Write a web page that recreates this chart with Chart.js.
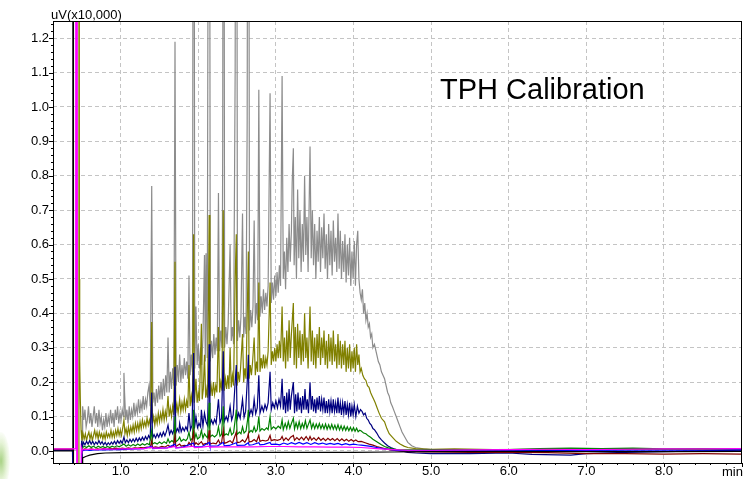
<!DOCTYPE html>
<html>
<head>
<meta charset="utf-8">
<script src="https://cdn.jsdelivr.net/npm/chart.js@4/dist/chart.umd.min.js"></script>
<style>
html,body{margin:0;padding:0;background:#fff;}
#wrap{position:relative;width:753px;height:479px;overflow:hidden;}
canvas{position:absolute;left:0;top:0;}
.lbl{position:absolute;font-family:"Liberation Sans",Arial,sans-serif;color:#000;line-height:1;white-space:nowrap;}
#blob{position:absolute;left:-8px;top:432px;width:18px;height:58px;border-radius:50%;
 background:radial-gradient(ellipse at center, rgba(110,180,50,0.6) 0%, rgba(170,215,120,0.3) 45%, rgba(255,255,255,0) 75%);}
</style>
</head>
<body>
<div id="wrap">
<canvas id="c" width="753" height="479"></canvas>
<div id="blob"></div>
<div class="lbl" id="title" style="left:440px;top:75px;font-size:29px;">TPH Calibration</div>
<div class="lbl" id="unit" style="left:51px;top:8px;font-size:13px;">uV(x10,000)</div>
<div class="lbl" id="xunit" style="left:722px;top:465px;font-size:13px;">min</div>
</div>
<script>
// ---- tick values ----
const xTickValues = [1, 2, 3, 4, 5, 6, 7, 8];
const yTickValues = [0.0, 0.1, 0.2, 0.3, 0.4, 0.5, 0.6, 0.7, 0.8, 0.9, 1.0, 1.1, 1.2];
const xRange = [0.128, 9.006];
const yRange = [-0.035, 1.25];

// ---- series (time in min, signal in uV x10,000) ----
const grayPts = [[0.12,0.004],[0.38,0.004],[0.385,-0.2],[0.50,-0.2],[0.505,0.02],[0.51,0.13],[0.525,0.09],[0.54,0.12],[0.555,0.07],[0.57,0.09],[0.585,0.13],[0.60,0.08],[0.615,0.11],[0.63,0.07],[0.645,0.10],[0.66,0.13],[0.675,0.08],[0.69,0.11],[0.705,0.07],[0.72,0.12],[0.735,0.08],[0.75,0.10],[0.765,0.06],[0.78,0.09],[0.795,0.07],[0.81,0.11],[0.825,0.07],[0.84,0.10],[0.855,0.08],[0.87,0.12],[0.885,0.08],[0.90,0.11],[0.915,0.07],[0.93,0.12],[0.945,0.09],[0.96,0.13],[0.975,0.08],[0.99,0.11],[1.005,0.09],[1.02,0.12],[1.035,0.10],[1.042,0.227],[1.05,0.17],[1.065,0.09],[1.08,0.12],[1.095,0.08],[1.11,0.13],[1.125,0.09],[1.14,0.12],[1.155,0.10],[1.17,0.14],[1.185,0.10],[1.20,0.13],[1.215,0.11],[1.23,0.15],[1.245,0.11],[1.26,0.14],[1.275,0.12],[1.29,0.16],[1.305,0.12],[1.32,0.15],[1.335,0.13],[1.35,0.17],[1.365,0.19],[1.38,0.13],[1.40,0.77],[1.415,0.14],[1.43,0.17],[1.445,0.13],[1.46,0.18],[1.475,0.14],[1.49,0.19],[1.505,0.15],[1.52,0.20],[1.535,0.15],[1.55,0.21],[1.565,0.16],[1.58,0.22],[1.595,0.17],[1.61,0.33],[1.625,0.17],[1.64,0.23],[1.655,0.18],[1.67,0.24],[1.685,0.19],[1.70,1.19],[1.715,0.19],[1.73,0.25],[1.745,0.20],[1.76,0.28],[1.775,0.20],[1.79,0.25],[1.805,0.21],[1.82,0.27],[1.835,0.22],[1.85,0.26],[1.865,0.21],[1.88,0.51],[1.895,0.22],[1.91,0.28],[1.925,0.23],[1.94,3.0],[1.955,0.24],[1.97,0.42],[1.985,0.25],[2.00,0.31],[2.015,0.24],[2.03,0.30],[2.045,0.25],[2.06,0.33],[2.08,0.57],[2.09,0.26],[2.10,0.575],[2.115,0.27],[2.14,3.0],[2.155,0.26],[2.17,0.32],[2.185,0.27],[2.20,0.34],[2.215,0.28],[2.23,0.33],[2.245,0.29],[2.26,0.75],[2.275,0.29],[2.29,0.35],[2.305,0.30],[2.315,0.89],[2.325,3.0],[2.34,0.30],[2.355,0.36],[2.37,0.31],[2.385,0.37],[2.41,0.60],[2.425,0.32],[2.44,0.36],[2.455,0.31],[2.475,1.10],[2.49,3.0],[2.505,0.32],[2.52,0.38],[2.535,0.33],[2.55,0.39],[2.57,0.69],[2.585,0.33],[2.60,0.39],[2.615,0.34],[2.63,0.96],[2.645,3.0],[2.66,0.35],[2.675,0.41],[2.69,0.36],[2.705,0.42],[2.72,0.67],[2.735,0.37],[2.75,0.43],[2.765,0.38],[2.78,1.05],[2.795,0.39],[2.81,0.45],[2.825,0.40],[2.84,0.47],[2.855,0.41],[2.87,0.46],[2.885,0.42],[2.90,0.48],[2.925,1.04],[2.94,0.43],[2.955,0.49],[2.97,0.44],[2.985,0.51],[3.00,0.45],[3.015,0.52],[3.03,0.46],[3.045,0.54],[3.06,0.48],[3.08,1.09],[3.095,0.50],[3.11,0.58],[3.125,0.47],[3.14,0.62],[3.155,0.52],[3.17,0.66],[3.185,0.55],[3.20,0.64],[3.21,0.78],[3.225,0.88],[3.235,0.54],[3.25,0.68],[3.265,0.50],[3.28,0.76],[3.295,0.56],[3.31,0.70],[3.325,0.52],[3.34,0.66],[3.355,0.55],[3.37,0.80],[3.385,0.57],[3.40,0.68],[3.415,0.52],[3.44,0.885],[3.455,0.56],[3.47,0.70],[3.485,0.54],[3.50,0.66],[3.515,0.50],[3.53,0.64],[3.545,0.55],[3.56,0.68],[3.575,0.52],[3.59,0.65],[3.605,0.56],[3.62,0.69],[3.635,0.53],[3.65,0.63],[3.665,0.50],[3.68,0.66],[3.695,0.54],[3.71,0.64],[3.725,0.51],[3.74,0.67],[3.755,0.55],[3.77,0.62],[3.785,0.52],[3.80,0.69],[3.815,0.53],[3.83,0.64],[3.845,0.50],[3.86,0.61],[3.875,0.52],[3.89,0.63],[3.905,0.49],[3.92,0.60],[3.935,0.51],[3.95,0.62],[3.965,0.48],[3.98,0.58],[3.995,0.50],[4.01,0.61],[4.025,0.48],[4.04,0.60],[4.055,0.64],[4.07,0.50],[4.085,0.46],[4.10,0.44],[4.115,0.47],[4.13,0.40],[4.145,0.43],[4.16,0.38],[4.175,0.40],[4.19,0.36],[4.205,0.37],[4.22,0.33],[4.235,0.34],[4.25,0.30],[4.27,0.31],[4.30,0.28],[4.32,0.26],[4.34,0.25],[4.36,0.23],[4.38,0.22],[4.40,0.21],[4.42,0.19],[4.44,0.17],[4.46,0.16],[4.48,0.14],[4.50,0.13],[4.525,0.115],[4.55,0.10],[4.575,0.085],[4.60,0.07],[4.625,0.055],[4.65,0.045],[4.675,0.035],[4.70,0.025],[4.75,0.015],[4.80,0.01],[4.90,0.006],[5.0,0.004],[5.5,0.003],[6.0,0.004],[6.5,0.003],[7.0,0.004],[7.5,0.004],[8.0,0.005],[8.5,0.004],[9.0,0.005]];

const olivePts = [[0.12,0.006],[0.38,0.006],[0.385,-0.2],[0.455,-0.2],[0.462,5.0],[0.468,0.5],[0.472,0.26],[0.48,0.15],[0.49,0.06],[0.50,0.03],[0.515,0.05],[0.53,0.035],[0.545,0.05],[0.56,0.03],[0.575,0.045],[0.59,0.055],[0.605,0.035],[0.62,0.05],[0.635,0.03],[0.65,0.045],[0.665,0.06],[0.68,0.04],[0.695,0.055],[0.71,0.035],[0.725,0.055],[0.74,0.04],[0.755,0.05],[0.77,0.035],[0.785,0.05],[0.80,0.035],[0.815,0.055],[0.83,0.04],[0.845,0.05],[0.86,0.04],[0.875,0.06],[0.89,0.04],[0.905,0.055],[0.92,0.04],[0.935,0.06],[0.95,0.045],[0.965,0.065],[0.98,0.045],[0.995,0.06],[1.01,0.045],[1.025,0.065],[1.042,0.09],[1.055,0.05],[1.07,0.065],[1.085,0.045],[1.10,0.07],[1.115,0.05],[1.13,0.07],[1.145,0.055],[1.16,0.075],[1.175,0.055],[1.19,0.08],[1.205,0.06],[1.22,0.08],[1.235,0.06],[1.25,0.085],[1.265,0.065],[1.28,0.09],[1.295,0.07],[1.31,0.085],[1.325,0.07],[1.34,0.095],[1.355,0.075],[1.37,0.09],[1.385,0.07],[1.40,0.375],[1.41,0.08],[1.425,0.10],[1.44,0.075],[1.455,0.10],[1.47,0.08],[1.485,0.11],[1.50,0.085],[1.515,0.11],[1.53,0.09],[1.545,0.12],[1.56,0.09],[1.575,0.115],[1.59,0.095],[1.61,0.16],[1.625,0.10],[1.64,0.125],[1.655,0.10],[1.67,0.13],[1.685,0.105],[1.70,0.55],[1.71,0.11],[1.725,0.135],[1.74,0.11],[1.76,0.15],[1.775,0.115],[1.79,0.14],[1.805,0.12],[1.82,0.15],[1.835,0.12],[1.85,0.145],[1.865,0.125],[1.88,0.25],[1.895,0.13],[1.91,0.16],[1.925,0.13],[1.94,0.63],[1.95,0.14],[1.97,0.21],[1.985,0.14],[2.00,0.17],[2.015,0.145],[2.04,0.37],[2.05,0.15],[2.065,0.18],[2.08,0.28],[2.095,0.155],[2.11,0.18],[2.12,0.155],[2.14,0.686],[2.15,0.16],[2.165,0.19],[2.18,0.16],[2.195,0.20],[2.21,0.165],[2.225,0.19],[2.24,0.17],[2.26,0.36],[2.275,0.17],[2.29,0.20],[2.305,0.175],[2.322,0.70],[2.335,0.175],[2.35,0.21],[2.365,0.18],[2.38,0.22],[2.395,0.18],[2.41,0.30],[2.425,0.185],[2.44,0.22],[2.455,0.19],[2.475,0.50],[2.49,0.63],[2.50,0.19],[2.515,0.23],[2.53,0.20],[2.545,0.24],[2.57,0.34],[2.585,0.20],[2.60,0.24],[2.615,0.21],[2.635,0.45],[2.645,0.58],[2.655,0.21],[2.67,0.25],[2.685,0.22],[2.70,0.26],[2.72,0.33],[2.735,0.22],[2.75,0.26],[2.765,0.23],[2.78,0.49],[2.795,0.23],[2.81,0.27],[2.825,0.24],[2.84,0.28],[2.855,0.24],[2.87,0.27],[2.885,0.25],[2.90,0.29],[2.925,0.49],[2.94,0.25],[2.955,0.29],[2.97,0.26],[2.985,0.30],[3.00,0.26],[3.015,0.31],[3.03,0.27],[3.045,0.32],[3.06,0.27],[3.08,0.42],[3.095,0.26],[3.11,0.33],[3.125,0.24],[3.14,0.35],[3.155,0.26],[3.17,0.38],[3.185,0.27],[3.20,0.34],[3.225,0.43],[3.235,0.25],[3.25,0.36],[3.265,0.24],[3.28,0.37],[3.295,0.27],[3.31,0.35],[3.325,0.25],[3.34,0.34],[3.355,0.26],[3.37,0.40],[3.385,0.27],[3.40,0.33],[3.415,0.24],[3.44,0.42],[3.455,0.26],[3.47,0.35],[3.485,0.25],[3.50,0.33],[3.515,0.24],[3.53,0.34],[3.545,0.27],[3.56,0.36],[3.575,0.25],[3.59,0.33],[3.605,0.27],[3.62,0.35],[3.635,0.25],[3.65,0.32],[3.665,0.24],[3.68,0.34],[3.695,0.26],[3.71,0.33],[3.725,0.25],[3.74,0.35],[3.755,0.26],[3.77,0.31],[3.785,0.24],[3.80,0.34],[3.815,0.25],[3.83,0.32],[3.845,0.24],[3.86,0.31],[3.875,0.25],[3.89,0.32],[3.905,0.23],[3.92,0.30],[3.935,0.24],[3.95,0.31],[3.965,0.23],[3.98,0.29],[3.995,0.24],[4.01,0.30],[4.025,0.23],[4.04,0.31],[4.055,0.25],[4.07,0.28],[4.085,0.23],[4.10,0.24],[4.12,0.22],[4.14,0.21],[4.16,0.205],[4.18,0.19],[4.20,0.185],[4.22,0.17],[4.24,0.16],[4.26,0.15],[4.28,0.14],[4.30,0.128],[4.33,0.11],[4.36,0.095],[4.40,0.085],[4.43,0.065],[4.46,0.05],[4.50,0.04],[4.55,0.028],[4.60,0.02],[4.65,0.014],[4.70,0.01],[4.80,0.007],[5.0,0.005],[5.3,0.006],[5.8,0.004],[6.5,0.005],[7.2,0.004],[8.0,0.005],[9.0,0.004]];

const navyPts = [[0.12,0.003],[0.38,0.003],[0.385,-0.2],[0.49,-0.2],[0.497,0.03],[0.505,0.01],[0.52,0.025],[0.54,0.018],[0.56,0.028],[0.58,0.02],[0.60,0.03],[0.62,0.02],[0.64,0.028],[0.66,0.018],[0.68,0.026],[0.70,0.02],[0.72,0.03],[0.74,0.02],[0.76,0.027],[0.78,0.018],[0.80,0.025],[0.82,0.017],[0.84,0.024],[0.86,0.018],[0.88,0.026],[0.90,0.02],[0.92,0.028],[0.94,0.02],[0.96,0.03],[0.98,0.022],[1.00,0.03],[1.02,0.022],[1.042,0.04],[1.06,0.024],[1.08,0.032],[1.10,0.024],[1.12,0.034],[1.14,0.026],[1.16,0.035],[1.18,0.027],[1.20,0.037],[1.22,0.028],[1.24,0.038],[1.26,0.03],[1.28,0.04],[1.30,0.031],[1.32,0.042],[1.34,0.033],[1.36,0.045],[1.38,0.035],[1.40,0.17],[1.41,0.037],[1.43,0.048],[1.45,0.038],[1.47,0.05],[1.49,0.04],[1.51,0.052],[1.53,0.042],[1.55,0.055],[1.57,0.044],[1.59,0.057],[1.61,0.075],[1.63,0.048],[1.65,0.06],[1.67,0.05],[1.685,0.062],[1.70,0.245],[1.71,0.052],[1.73,0.065],[1.75,0.055],[1.76,0.08],[1.78,0.056],[1.80,0.068],[1.82,0.058],[1.84,0.07],[1.86,0.06],[1.88,0.11],[1.90,0.062],[1.92,0.075],[1.94,0.285],[1.95,0.065],[1.97,0.10],[1.99,0.068],[2.01,0.08],[2.03,0.07],[2.04,0.12],[2.06,0.072],[2.08,0.11],[2.10,0.085],[2.12,0.074],[2.14,0.31],[2.15,0.076],[2.17,0.09],[2.19,0.078],[2.21,0.092],[2.23,0.08],[2.26,0.15],[2.28,0.082],[2.30,0.095],[2.322,0.29],[2.335,0.085],[2.36,0.10],[2.38,0.087],[2.41,0.13],[2.43,0.09],[2.45,0.105],[2.475,0.20],[2.49,0.25],[2.50,0.092],[2.52,0.11],[2.54,0.095],[2.57,0.15],[2.59,0.098],[2.61,0.115],[2.635,0.22],[2.645,0.28],[2.655,0.10],[2.68,0.12],[2.70,0.105],[2.72,0.15],[2.74,0.108],[2.76,0.125],[2.78,0.22],[2.795,0.11],[2.82,0.13],[2.84,0.115],[2.86,0.135],[2.88,0.12],[2.90,0.14],[2.925,0.23],[2.94,0.12],[2.96,0.14],[2.98,0.125],[3.00,0.145],[3.02,0.125],[3.04,0.15],[3.06,0.13],[3.08,0.21],[3.095,0.12],[3.11,0.16],[3.125,0.11],[3.14,0.17],[3.155,0.115],[3.17,0.18],[3.185,0.12],[3.20,0.16],[3.225,0.20],[3.24,0.11],[3.255,0.165],[3.27,0.115],[3.285,0.17],[3.30,0.12],[3.315,0.155],[3.33,0.11],[3.345,0.16],[3.36,0.12],[3.375,0.18],[3.39,0.12],[3.405,0.15],[3.42,0.11],[3.44,0.20],[3.455,0.12],[3.47,0.16],[3.485,0.115],[3.50,0.15],[3.515,0.11],[3.53,0.155],[3.545,0.12],[3.56,0.16],[3.575,0.115],[3.59,0.15],[3.605,0.12],[3.62,0.155],[3.635,0.11],[3.65,0.145],[3.665,0.11],[3.68,0.15],[3.695,0.115],[3.71,0.145],[3.725,0.11],[3.74,0.15],[3.755,0.115],[3.77,0.14],[3.785,0.11],[3.80,0.155],[3.815,0.11],[3.83,0.14],[3.845,0.105],[3.86,0.14],[3.875,0.11],[3.89,0.145],[3.905,0.105],[3.92,0.135],[3.935,0.105],[3.95,0.14],[3.965,0.10],[3.98,0.13],[3.995,0.105],[4.01,0.135],[4.03,0.10],[4.05,0.13],[4.07,0.11],[4.09,0.12],[4.11,0.115],[4.13,0.105],[4.15,0.11],[4.17,0.095],[4.19,0.09],[4.21,0.08],[4.23,0.075],[4.25,0.065],[4.27,0.062],[4.30,0.052],[4.33,0.04],[4.36,0.032],[4.40,0.023],[4.44,0.015],[4.48,0.01],[4.52,0.006],[4.56,0.003],[4.62,0.0],[4.70,-0.004],[4.8,-0.006],[5.0,-0.008],[5.5,-0.008],[6.0,-0.006],[6.3,-0.01],[6.8,-0.012],[7.0,-0.008],[7.5,-0.004],[8.0,-0.002],[8.5,0.0],[9.0,0.002]];

const greenPts = [[0.12,0.003],[0.38,0.003],[0.385,-0.2],[0.495,-0.2],[0.505,0.008],[0.53,0.014],[0.56,0.01],[0.59,0.015],[0.62,0.01],[0.65,0.014],[0.68,0.009],[0.71,0.014],[0.74,0.01],[0.77,0.013],[0.80,0.009],[0.83,0.013],[0.86,0.01],[0.89,0.014],[0.92,0.011],[0.95,0.015],[0.98,0.012],[1.01,0.016],[1.042,0.02],[1.07,0.014],[1.10,0.018],[1.13,0.014],[1.16,0.019],[1.19,0.015],[1.22,0.02],[1.25,0.016],[1.28,0.021],[1.31,0.017],[1.34,0.022],[1.37,0.018],[1.40,0.06],[1.41,0.02],[1.44,0.024],[1.47,0.02],[1.50,0.026],[1.53,0.021],[1.56,0.027],[1.59,0.022],[1.61,0.035],[1.63,0.024],[1.66,0.03],[1.685,0.025],[1.70,0.10],[1.71,0.026],[1.74,0.032],[1.76,0.04],[1.78,0.028],[1.81,0.034],[1.84,0.03],[1.86,0.036],[1.88,0.055],[1.90,0.031],[1.925,0.037],[1.94,0.12],[1.95,0.033],[1.97,0.05],[1.99,0.035],[2.02,0.04],[2.04,0.06],[2.06,0.037],[2.08,0.05],[2.10,0.043],[2.12,0.038],[2.14,0.14],[2.15,0.04],[2.18,0.046],[2.21,0.041],[2.24,0.047],[2.26,0.07],[2.28,0.043],[2.30,0.048],[2.322,0.13],[2.335,0.045],[2.36,0.05],[2.385,0.046],[2.41,0.065],[2.43,0.047],[2.455,0.053],[2.475,0.09],[2.49,0.12],[2.50,0.048],[2.53,0.055],[2.55,0.05],[2.57,0.07],[2.59,0.052],[2.615,0.058],[2.635,0.09],[2.645,0.12],[2.655,0.053],[2.68,0.06],[2.70,0.055],[2.72,0.07],[2.74,0.056],[2.76,0.062],[2.78,0.10],[2.795,0.058],[2.82,0.065],[2.85,0.06],[2.88,0.067],[2.90,0.062],[2.925,0.10],[2.94,0.063],[2.97,0.07],[3.00,0.064],[3.03,0.072],[3.06,0.066],[3.08,0.09],[3.095,0.062],[3.12,0.08],[3.14,0.065],[3.16,0.085],[3.18,0.066],[3.20,0.08],[3.225,0.095],[3.24,0.064],[3.26,0.082],[3.28,0.066],[3.30,0.085],[3.32,0.065],[3.34,0.08],[3.36,0.067],[3.38,0.088],[3.40,0.066],[3.42,0.078],[3.44,0.09],[3.46,0.066],[3.48,0.08],[3.50,0.065],[3.52,0.078],[3.54,0.066],[3.56,0.08],[3.58,0.065],[3.60,0.077],[3.62,0.064],[3.64,0.078],[3.66,0.063],[3.68,0.076],[3.70,0.064],[3.72,0.077],[3.74,0.063],[3.76,0.075],[3.78,0.062],[3.80,0.076],[3.82,0.061],[3.84,0.073],[3.86,0.06],[3.88,0.072],[3.90,0.06],[3.92,0.07],[3.94,0.059],[3.96,0.069],[3.98,0.058],[4.00,0.068],[4.02,0.057],[4.04,0.066],[4.06,0.056],[4.08,0.06],[4.10,0.058],[4.13,0.052],[4.16,0.05],[4.19,0.044],[4.22,0.04],[4.25,0.034],[4.28,0.03],[4.32,0.024],[4.36,0.018],[4.40,0.013],[4.45,0.009],[4.50,0.006],[4.56,0.004],[4.65,0.003],[5.0,0.003],[5.5,0.004],[6.0,0.004],[6.4,0.007],[6.8,0.008],[7.2,0.007],[7.6,0.008],[8.0,0.006],[8.5,0.007],[9.0,0.006]];

const redPts = [[0.12,0.004],[0.38,0.004],[0.385,-0.2],[0.495,-0.2],[0.50,0.003],[0.54,0.006],[0.58,0.004],[0.62,0.006],[0.66,0.004],[0.70,0.006],[0.74,0.005],[0.78,0.007],[0.82,0.005],[0.86,0.007],[0.90,0.006],[0.94,0.008],[0.98,0.006],[1.02,0.008],[1.06,0.007],[1.10,0.009],[1.14,0.007],[1.18,0.009],[1.22,0.008],[1.26,0.01],[1.30,0.009],[1.34,0.011],[1.38,0.009],[1.40,0.03],[1.41,0.01],[1.45,0.012],[1.49,0.01],[1.53,0.013],[1.57,0.011],[1.61,0.017],[1.64,0.012],[1.68,0.014],[1.70,0.045],[1.71,0.013],[1.76,0.02],[1.78,0.014],[1.82,0.016],[1.86,0.015],[1.88,0.025],[1.91,0.016],[1.94,0.055],[1.95,0.017],[1.97,0.024],[2.00,0.018],[2.04,0.027],[2.06,0.019],[2.10,0.022],[2.12,0.02],[2.14,0.06],[2.15,0.02],[2.19,0.023],[2.23,0.021],[2.26,0.032],[2.28,0.022],[2.30,0.024],[2.322,0.06],[2.335,0.022],[2.37,0.025],[2.41,0.03],[2.44,0.023],[2.475,0.045],[2.49,0.055],[2.50,0.024],[2.54,0.026],[2.57,0.032],[2.60,0.025],[2.635,0.04],[2.645,0.05],[2.655,0.026],[2.69,0.028],[2.72,0.033],[2.75,0.027],[2.78,0.045],[2.795,0.028],[2.83,0.031],[2.87,0.029],[2.90,0.032],[2.925,0.045],[2.94,0.03],[2.98,0.033],[3.02,0.031],[3.06,0.034],[3.08,0.042],[3.10,0.03],[3.13,0.038],[3.16,0.031],[3.19,0.04],[3.225,0.045],[3.24,0.031],[3.27,0.039],[3.30,0.032],[3.33,0.04],[3.36,0.032],[3.39,0.042],[3.42,0.031],[3.44,0.042],[3.46,0.032],[3.49,0.038],[3.52,0.031],[3.55,0.039],[3.58,0.031],[3.61,0.037],[3.64,0.03],[3.67,0.037],[3.70,0.031],[3.73,0.036],[3.76,0.03],[3.79,0.036],[3.82,0.029],[3.85,0.035],[3.88,0.029],[3.91,0.034],[3.94,0.028],[3.97,0.033],[4.00,0.028],[4.03,0.032],[4.06,0.027],[4.10,0.028],[4.15,0.024],[4.20,0.02],[4.25,0.017],[4.30,0.013],[4.35,0.01],[4.40,0.007],[4.46,0.004],[4.55,0.001],[4.7,-0.002],[5.0,-0.003],[5.5,-0.004],[6.0,-0.004],[6.5,-0.005],[7.0,-0.008],[7.5,-0.008],[8.0,-0.009],[8.5,-0.008],[9.0,-0.009]];

const bluePts = [[0.12,0.002],[0.38,0.002],[0.385,-0.2],[0.495,-0.2],[0.50,0.0],[0.55,0.003],[0.60,0.002],[0.70,0.004],[0.80,0.003],[0.90,0.004],[1.00,0.004],[1.10,0.005],[1.20,0.006],[1.30,0.007],[1.40,0.014],[1.41,0.007],[1.50,0.008],[1.60,0.009],[1.70,0.02],[1.71,0.009],[1.80,0.011],[1.94,0.023],[1.95,0.012],[2.05,0.013],[2.14,0.025],[2.15,0.014],[2.25,0.015],[2.322,0.025],[2.335,0.015],[2.40,0.016],[2.49,0.024],[2.50,0.016],[2.60,0.017],[2.645,0.024],[2.655,0.017],[2.70,0.018],[2.78,0.024],[2.795,0.018],[2.85,0.019],[2.925,0.025],[2.94,0.019],[3.00,0.02],[3.05,0.018],[3.10,0.023],[3.15,0.019],[3.20,0.024],[3.25,0.02],[3.30,0.025],[3.35,0.02],[3.40,0.024],[3.45,0.019],[3.50,0.024],[3.55,0.02],[3.60,0.023],[3.65,0.019],[3.70,0.022],[3.75,0.019],[3.80,0.022],[3.85,0.018],[3.90,0.021],[3.95,0.018],[4.00,0.02],[4.05,0.018],[4.10,0.017],[4.20,0.014],[4.30,0.01],[4.40,0.006],[4.50,0.003],[4.6,0.001],[4.8,0.0],[5.5,0.0],[6.5,0.001],[7.5,0.002],[8.5,0.002],[9.0,0.003]];

const magentaPts = [[0.12,0.006],[0.42,0.006],[0.425,5.0],[0.431,-0.2],[0.437,5.0],[0.443,-0.2],[0.488,-0.2],[0.492,0.01],[0.50,0.003],[0.6,0.005],[0.7,0.004],[0.8,0.006],[0.9,0.005],[1.0,0.006],[1.1,0.006],[1.2,0.007],[1.3,0.007],[1.40,0.011],[1.41,0.008],[1.5,0.008],[1.6,0.009],[1.70,0.013],[1.71,0.009],[1.8,0.01],[1.94,0.014],[1.95,0.01],[2.05,0.011],[2.14,0.014],[2.15,0.011],[2.3,0.012],[2.5,0.012],[2.7,0.012],[2.9,0.013],[3.1,0.013],[3.3,0.012],[3.5,0.012],[3.7,0.011],[3.9,0.011],[4.1,0.01],[4.3,0.007],[4.5,0.004],[4.7,0.002],[5.0,0.002],[5.5,0.003],[6.0,0.004],[6.5,0.005],[7.0,0.004],[7.5,0.005],[8.0,0.006],[8.5,0.006],[9.0,0.007]];

const blackPts = [[0.12,0.0],[0.381,0.0],[0.384,5.0],[0.387,-0.2],[0.390,5.0],[0.393,-0.2],[0.505,-0.2],[0.51,-0.02],[0.55,-0.016],[0.60,-0.012],[0.70,-0.008],[0.80,-0.006],[1.0,-0.005],[1.5,-0.004],[2.0,-0.005],[2.5,-0.004],[3.0,-0.004],[3.5,-0.004],[4.0,-0.004],[4.5,-0.003],[5.0,-0.002],[6.0,-0.001],[7.0,-0.002],[8.0,-0.002],[9.0,-0.001]];

const seriesColors = {
  gray: '#8c8c8c', olive: '#808000', navy: '#000080', green: '#008000',
  red: '#800000', blue: '#0000ff', magenta: '#ff00ff', black: '#000000'
};

function ds(pts, color, order) {
  return {
    data: pts.map(p => ({x: p[0], y: p[1]})),
    borderColor: color, borderWidth: 1.2, pointRadius: 0, tension: 0,
    fill: false, order: order
  };
}

const frameAndTicks = {
  id: 'frameAndTicks',
  afterDraw(chart) {
    const {ctx, chartArea: a, scales: {x, y}} = chart;
    ctx.save();
    ctx.strokeStyle = '#000';
    ctx.lineWidth = 1;
    ctx.beginPath();
    for (let i = -1; i <= 62; i++) {
      const v = i * 0.02;
      if (v < y.min || v > y.max) continue;
      const py = Math.round(y.getPixelForValue(v)) + 0.5;
      const len = (i % 5 === 0) ? 4 : 2;
      ctx.moveTo(Math.round(a.left) - len, py);
      ctx.lineTo(Math.round(a.left), py);
    }
    for (let i = 1; i <= 45; i++) {
      const v = i * 0.2;
      if (v < x.min || v > x.max) continue;
      const px = Math.round(x.getPixelForValue(v)) + 0.5;
      const len = (i % 5 === 0) ? 4 : 2;
      ctx.moveTo(px, Math.round(a.bottom));
      ctx.lineTo(px, Math.round(a.bottom) + len);
    }
    ctx.stroke();
    ctx.strokeRect(Math.round(a.left) + 0.5, Math.round(a.top) + 0.5,
                   Math.round(a.right - a.left) - 1, Math.round(a.bottom - a.top));
    ctx.restore();
  }
};

new Chart(document.getElementById('c'), {
  type: 'line',
  data: {
    datasets: [
      ds(magentaPts, seriesColors.magenta, 1),
      ds(blackPts, seriesColors.black, 2),
      ds(bluePts, seriesColors.blue, 3),
      ds(redPts, seriesColors.red, 4),
      ds(greenPts, seriesColors.green, 5),
      ds(navyPts, seriesColors.navy, 6),
      ds(olivePts, seriesColors.olive, 7),
      ds(grayPts, seriesColors.gray, 8)
    ]
  },
  options: {
    responsive: false,
    animation: false,
    events: [],
    layout: { padding: { left: 0, top: 21, right: 11, bottom: 0 } },
    plugins: { legend: { display: false }, tooltip: { enabled: false } },
    scales: {
      x: {
        type: 'linear', min: xRange[0], max: xRange[1],
        afterBuildTicks: s => { s.ticks = xTickValues.map(v => ({value: v})); },
        afterFit: s => { s.height = 16; },
        ticks: {
          callback: v => Number(v).toFixed(1), color: '#000', padding: 1,
          maxRotation: 0, autoSkip: false,
          font: { family: '"Liberation Sans", Arial, sans-serif', size: 13 }
        },
        grid: { color: '#c4c4c4', lineWidth: 1, drawTicks: false },
        border: { display: false, dash: [4, 3] }
      },
      y: {
        type: 'linear', min: yRange[0], max: yRange[1],
        afterBuildTicks: s => { s.ticks = yTickValues.map(v => ({value: v})); },
        afterFit: s => { s.width = 53; },
        ticks: {
          callback: v => Number(v).toFixed(1), color: '#000', padding: 4,
          autoSkip: false,
          font: { family: '"Liberation Sans", Arial, sans-serif', size: 13 }
        },
        grid: { color: '#c4c4c4', lineWidth: 1, drawTicks: false },
        border: { display: false, dash: [4, 3] }
      }
    }
  },
  plugins: [frameAndTicks]
});
</script>
</body>
</html>
